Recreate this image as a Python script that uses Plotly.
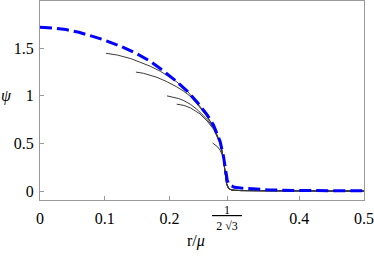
import math
import plotly.graph_objects as go

# ---- data ----
dash_r = [0, 0.02, 0.04, 0.06, 0.08, 0.10, 0.125, 0.148, 0.17, 0.19, 0.21, 0.228,
          0.243, 0.258, 0.268, 0.278, 0.283, 0.286, 0.289, 0.292, 0.296, 0.30,
          0.31, 0.325, 0.35, 0.40, 0.45, 0.50]
dash_psi = [1.72, 1.714, 1.697, 1.668, 1.628, 1.585, 1.52, 1.448, 1.365, 1.265,
            1.155, 1.045, 0.93, 0.80, 0.69, 0.52, 0.37, 0.22, 0.11, 0.065, 0.048,
            0.04, 0.032, 0.022, 0.013, 0.006, 0.003, 0.002]

r1 = [0.1018, 0.12, 0.14, 0.155, 0.17, 0.186, 0.2, 0.211, 0.228, 0.243, 0.258, 0.268, 0.278]
psi1 = [1.448, 1.428, 1.392, 1.355, 1.312, 1.258, 1.200, 1.148, 1.045, 0.925, 0.785, 0.675, 0.51]

r2 = [0.148, 0.16, 0.1805, 0.195, 0.211, 0.222, 0.232, 0.243, 0.258, 0.268, 0.278]
psi2 = [1.25, 1.237, 1.195, 1.152, 1.095, 1.048, 0.995, 0.91, 0.78, 0.672, 0.508]

r3 = [0.196, 0.205, 0.214, 0.222, 0.232, 0.242, 0.25, 0.258, 0.268, 0.278]
psi3 = [1.0, 0.99, 0.972, 0.95, 0.912, 0.86, 0.81, 0.752, 0.66, 0.505]

r4 = [0.211, 0.222, 0.232, 0.24, 0.247, 0.258, 0.268, 0.278]
psi4 = [0.913, 0.9, 0.875, 0.845, 0.81, 0.735, 0.648, 0.50]

r5 = [0.2664, 0.27, 0.274, 0.278, 0.281]
psi5 = [0.505, 0.49, 0.465, 0.43, 0.39]

tail_r = [0.283, 0.2855, 0.288, 0.291, 0.295, 0.30, 0.31, 0.35, 0.40, 0.45, 0.50]
tail_psi = [0.35, 0.20, 0.075, 0.028, 0.013, 0.008, 0.005, 0.003, 0.002, 0.001, 0.0]

X_FRAC = 1 / (2 * math.sqrt(3))
xtick_vals = [0, 0.1, 0.2, X_FRAC, 0.4, 0.5]
xtick_text = ["0", "0.1", "0.2", "", "0.4", "0.5"]
ytick_vals = [0, 0.5, 1, 1.5]
ytick_text = ["0", "0.5", "1", "1.5"]

FONT = "Liberation Serif, 'Times New Roman', Times, 'DejaVu Serif', serif"

fig = go.Figure()
for r, p in [(r1, psi1), (r2, psi2), (r3, psi3), (r4, psi4), (r5, psi5)]:
    fig.add_trace(go.Scatter(x=r + tail_r, y=p + tail_psi, mode="lines",
                             line=dict(color="#3a3a3a", width=1), hoverinfo="skip"))
fig.add_trace(go.Scatter(x=dash_r, y=dash_psi, mode="lines",
                         line=dict(color="#0000ff", width=3, dash="12px,5px"),
                         hoverinfo="skip"))

axis_common = dict(ticks="inside", ticklen=4, tickcolor="#999999", showline=True,
                   linecolor="#999999", linewidth=1, mirror=True, showgrid=False,
                   zeroline=False, tickfont=dict(family=FONT, size=16, color="black"))
fig.update_xaxes(range=[0, 0.5], tickvals=xtick_vals, ticktext=xtick_text,
                 ticklabelstandoff=4, **axis_common)
fig.update_yaxes(range=[-0.094, 1.997], tickvals=ytick_vals, ticktext=ytick_text,
                 ticklabelstandoff=2, **axis_common)

nb = "\u00a0"
fig.add_annotation(x=X_FRAC, xref="x", y=-0.004, yref="paper", yanchor="top",
                   xanchor="center",
                   text="<u>" + nb * 4 + "1" + nb * 4 + "</u><br>2 √3",
                   showarrow=False, font=dict(family=FONT, size=12, color="black"))
fig.add_annotation(x=-0.102, xref="paper", y=0.524, yref="paper",
                   xanchor="center", yanchor="middle",
                   text="<i>ψ</i>", showarrow=False,
                   font=dict(family=FONT, size=16, color="black"))
fig.add_annotation(x=0.48, xref="paper", y=-0.2045, yref="paper",
                   xanchor="center", yanchor="middle",
                   text="r/<i>μ</i>", showarrow=False,
                   font=dict(family=FONT, size=16, color="black"))

fig.update_layout(width=374, height=256, margin=dict(l=40, r=10, t=1, b=56),
                  showlegend=False, plot_bgcolor="white", paper_bgcolor="white",
                  font=dict(family=FONT, size=16, color="black"))
fig.write_html("out.html", config={"displayModeBar": False},
               post_script="document.body.style.margin='0';")
